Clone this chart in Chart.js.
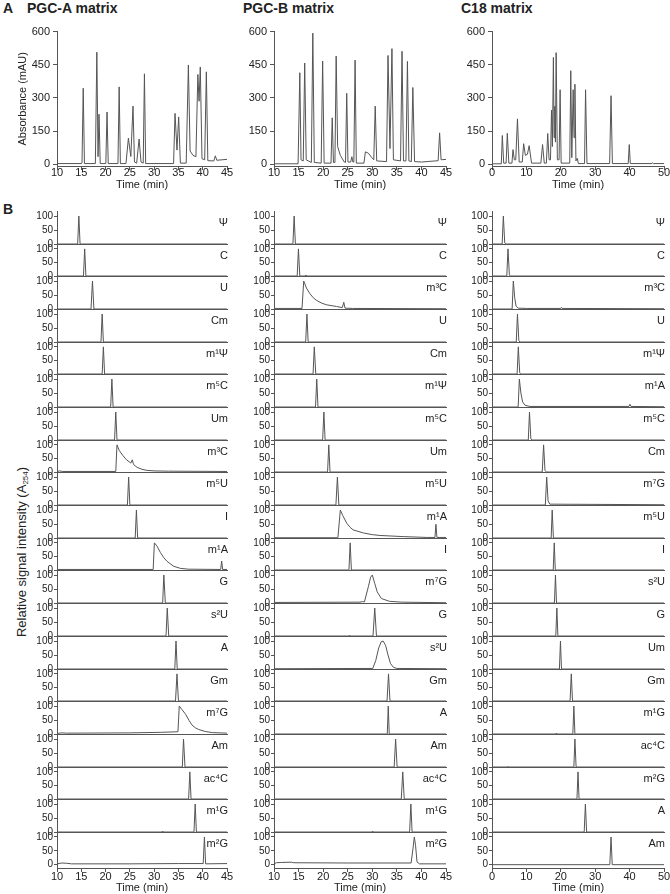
<!DOCTYPE html>
<html>
<head>
<meta charset="utf-8">
<script src="https://cdn.jsdelivr.net/npm/chart.js@4.4.0/dist/chart.umd.min.js"></script>
<style>
  body { margin: 0; background: #fff; width: 670px; height: 894px; position: relative; overflow: hidden;
         font-family: "Liberation Sans", Arial, sans-serif; color: #222; }
  canvas { position: absolute; }
  .lbl { position: absolute; line-height: 1; white-space: nowrap; }
  .panel { font-weight: bold; font-size: 14px; }
  .row { font-size: 11px; }
  .ytitle { position: absolute; font-size: 13px; line-height: 1; white-space: nowrap;
            transform: translate(-50%, -50%) rotate(-90deg); }
  .ytitle sub { font-size: 8px; vertical-align: -2px; }
</style>
</head>
<body>
<div class="lbl panel" style="left:3px;top:1px">A</div>
<div class="lbl panel" style="left:27px;top:1px">PGC-A matrix</div>
<div class="lbl panel" style="left:243px;top:1px">PGC-B matrix</div>
<div class="lbl panel" style="left:461px;top:1px">C18 matrix</div>
<div class="lbl panel" style="left:3px;top:202px">B</div>
<div class="ytitle" style="left:22px;top:552px">Relative signal intensity (A<sub>254</sub>)</div>

<script>
// ---- tick values ----
const absTicks = [0, 150, 300, 450, 600];
const relTicks = [0, 50, 100];
const pgcTimeTicks = [10, 15, 20, 25, 30, 35, 40, 45];
const c18TimeTicks = [0, 10, 20, 30, 40, 50];

// ---- panel A: full mixture chromatograms [time (min), absorbance (mAU)] ----
const pgcaTrace = [[10,3],[15.0,3],[15.15,5],[15.4,344],[15.65,3],[17.9,3],[18.2,507],[18.45,34],[18.65,226],[18.9,3],
  [20.05,3],[20.3,236],[20.55,3],[22.55,3],[22.8,350],[23.05,3],[24.2,3],[24.7,118],[25.2,35],[25.65,263],[25.95,10],
  [26.4,5],[26.9,114],[27.3,10],[27.75,5],[28.0,409],[28.25,3],[34.0,3],[34.3,230],[34.7,64],[35.05,214],[35.4,5],
  [36.6,5],[37.05,449],[37.4,60],[38.0,40],[38.6,34],[39.0,406],[39.25,285],[39.5,440],[39.85,25],[40.4,20],
  [40.75,418],[41.05,16],[42.3,15],[42.6,38],[42.9,18],[45,22]];
const pgcbTrace = [[10,2],[14.9,2],[15.25,414],[15.5,20],[15.95,15],[16.25,458],[16.55,20],[17.6,8],[17.9,593],[18.2,8],
  [19.6,5],[19.9,467],[20.2,5],[21.6,5],[21.85,210],[22.1,8],[22.4,8],[22.65,489],[22.95,80],[23.5,40],[24.3,10],
  [24.55,8],[24.8,321],[25.05,10],[25.6,10],[25.85,34],[26.05,10],[26.25,10],[26.5,471],[26.75,5],[28.3,5],[28.6,56],
  [29.2,50],[29.9,30],[30.3,20],[30.6,263],[30.9,15],[32.9,12],[33.2,492],[33.6,71],[34.0,523],[34.3,20],[35.75,15],
  [36.05,511],[36.35,15],[36.85,15],[37.15,465],[37.45,15],[37.95,12],[38.25,347],[38.6,12],[40,10],[43.4,16],
  [43.7,142],[44.0,20],[45,22]];
const c18Trace = [[0,2],[2.7,2],[3.0,130],[3.4,5],[4.1,5],[4.45,140],[4.9,5],[5.8,5],[6.1,66],[6.5,20],[6.9,20],[7.4,205],
  [7.9,10],[8.8,10],[9.2,93],[9.7,40],[10.3,45],[10.8,84],[11.5,5],[14.2,5],[14.7,89],[15.2,5],[15.8,5],[16.2,139],
  [16.6,20],[17.0,20],[17.3,245],[17.55,80],[17.85,483],[18.05,120],[18.25,262],[18.45,100],[18.65,505],[19.0,20],
  [19.5,20],[19.8,337],[20.1,5],[22.6,5],[22.9,423],[23.2,30],[23.6,337],[23.85,120],[24.1,362],[24.4,15],[24.8,27],
  [25.1,3],[26.9,3],[27.2,337],[27.6,3],[34.2,3],[34.6,310],[35.0,3],[39.6,3],[39.9,89],[40.2,3],[46.5,3],[46.7,6],
  [46.9,3],[50,3]];

// ---- panel B: single standards [time (min), relative intensity] ----
const pgcaNames = ['Ψ','C','U','Cm','m¹Ψ','m⁵C','Um','m³C','m⁵U','I','m¹A','G','s²U','A','Gm','m⁷G','Am','ac⁴C','m¹G','m²G'];
const pgcaRows = [
  [[10,0],[14.25,0],[14.5,100],[14.75,0],[45,0]],
  [[10,0],[15.45,0],[15.7,100],[15.95,0],[45,0]],
  [[10,0],[17.0,0],[17.3,100],[17.6,0],[45,0]],
  [[10,0],[19.05,0],[19.3,100],[19.55,0],[45,0]],
  [[10,0],[19.3,0],[19.55,100],[19.8,0],[45,0]],
  [[10,0],[21.05,0],[21.3,100],[21.55,0],[45,0]],
  [[10,0],[21.85,0],[22.1,100],[22.35,0],[45,0]],
  [[10,1],[10.5,4],[11.2,2],[22.1,2],[22.35,100],[22.8,80],[23.5,62],[24.3,45],[25.2,33],[25.5,45],[25.75,28],[26.5,17],[27.5,10],[28.5,6],[30,4],[33,3],[45,2]],
  [[10,0],[24.5,0],[24.75,100],[25.0,0],[45,0]],
  [[10,0],[26.1,0],[26.35,100],[26.6,0],[45,0]],
  [[10,2],[29.8,2],[30.05,100],[30.6,88],[31.3,64],[32.0,45],[32.65,32],[34.0,14],[35.4,6],[37,3],[43.7,2],[43.9,33],[44.1,2],[45,2]],
  [[10,0],[31.75,0],[32.0,100],[32.3,0],[45,0]],
  [[10,0],[32.45,0],[32.7,100],[33.0,0],[45,0]],
  [[10,0],[34.25,0],[34.5,100],[34.75,0],[45,0]],
  [[10,0],[34.4,0],[34.7,100],[35.0,0],[45,0]],
  [[10,2],[11,4],[12,3],[25,4],[31.5,6],[34.9,8],[35.17,100],[35.7,88],[36.5,70],[37.2,48],[37.8,32],[38.5,22],[39.2,16],[40.5,9],[42,5],[45,3]],
  [[10,0],[35.8,0],[36.05,100],[36.35,0],[45,0]],
  [[10,0],[37.1,0],[37.35,100],[37.6,0],[45,0]],
  [[10,0],[31.6,0],[31.7,2],[31.8,0],[38.2,0],[38.45,100],[38.7,0],[45,0]],
  [[10,3],[11,6],[12,5],[13,3],[25,3],[35,4],[40.1,4],[40.35,100],[40.6,3],[45,4]]
];

const pgcbNames = ['Ψ','C','m³C','U','Cm','m¹Ψ','m⁵C','Um','m⁵U','m¹A','I','m⁷G','G','s²U','Gm','A','Am','ac⁴C','m¹G','m²G'];
const pgcbRows = [
  [[10,0],[13.85,0],[14.1,100],[14.35,0],[45,0]],
  [[10,0],[14.72,0],[14.97,100],[15.25,0],[16.3,0],[16.5,3],[16.7,0],[45,0]],
  [[10,2],[15.7,2],[16.05,100],[16.6,75],[17.3,55],[18.0,40],[18.65,31],[19.7,21],[20.7,15],[22.7,9],[23.9,5],[24.2,24],[24.45,3],[26,2],[45,1]],
  [[10,0],[16.45,0],[16.7,100],[16.95,0],[45,0]],
  [[10,0],[17.95,0],[18.2,100],[18.5,0],[45,0]],
  [[10,0],[18.45,0],[18.7,100],[18.95,0],[45,0]],
  [[10,0],[19.9,0],[20.15,100],[20.4,0],[45,0]],
  [[10,0],[20.9,0],[21.15,100],[21.4,0],[45,0]],
  [[10,0],[22.6,0],[22.9,100],[23.2,0],[45,0]],
  [[10,1],[23.0,1],[23.5,100],[24.0,80],[24.8,53],[25.5,38],[26.1,29],[28.2,18],[30,12],[31.6,9],[36.3,5],[41.1,2],[42.75,2],[42.95,49],[43.15,2],[45,2]],
  [[10,0],[25.25,0],[25.5,100],[25.75,0],[45,0]],
  [[10,2],[27.5,3],[28.0,5],[28.4,4],[29.2,58],[29.65,92],[30.0,100],[30.5,70],[31.0,40],[31.85,16],[33.5,6],[36,3],[45,1]],
  [[10,0],[25.2,0],[25.3,2],[25.4,0],[30.15,0],[30.5,100],[30.85,0],[45,0]],
  [[10,1],[30.1,2],[30.7,30],[31.3,75],[31.8,97],[32.2,100],[32.7,85],[33.2,50],[33.7,20],[34.3,6],[35,2],[45,1]],
  [[10,0],[33.0,0],[33.3,100],[33.6,0],[45,0]],
  [[10,0],[33.05,0],[33.25,100],[33.45,0],[45,0]],
  [[10,0],[34.45,0],[34.75,100],[35.05,0],[45,0]],
  [[10,0],[35.9,0],[36.2,100],[36.5,0],[45,0]],
  [[10,0],[29.9,0],[30.0,2],[30.1,0],[37.6,0],[37.85,100],[38.1,0],[45,0]],
  [[10,3],[10.5,7],[11.5,8],[13.5,9],[14,7],[25,6],[37.9,6],[38.3,60],[38.55,100],[38.8,70],[39.1,10],[39.6,3],[45,3]]
];

const c18Names = ['Ψ','C','m³C','U','m¹Ψ','m¹A','m⁵C','Cm','m⁷G','m⁵U','I','s²U','G','Um','Gm','m¹G','ac⁴C','m²G','A','Am'];
const c18Rows = [
  [[0,0],[2.95,0],[3.3,100],[3.7,4],[4.0,0],[50,0]],
  [[0,0],[4.3,0],[4.65,100],[5.05,4],[5.3,0],[50,0]],
  [[0,0],[5.85,0],[6.2,100],[6.6,40],[7.0,10],[7.6,3],[10,2],[20.0,2],[20.2,6],[20.4,2],[50,1]],
  [[0,0],[7.05,0],[7.4,100],[7.8,5],[8.1,0],[50,0]],
  [[0,0],[7.3,0],[7.65,100],[8.05,5],[8.3,0],[50,0]],
  [[0,0],[7.6,0],[7.95,100],[8.4,50],[8.9,18],[9.6,6],[11,2],[39.8,2],[40.1,10],[40.4,2],[50,1]],
  [[0,0],[10.55,0],[10.9,100],[11.3,4],[11.6,0],[50,0]],
  [[0,0],[14.6,0],[15.0,100],[15.4,6],[15.8,0],[50,0]],
  [[0,0],[15.5,0],[15.9,100],[16.3,15],[16.8,3],[50,1]],
  [[0,0],[17.2,0],[17.5,100],[17.85,0],[50,0]],
  [[0,0],[17.8,0],[18.1,100],[18.4,0],[50,0]],
  [[0,0],[18.15,0],[18.45,100],[18.75,0],[50,0]],
  [[0,0],[18.55,0],[18.85,100],[19.15,0],[50,0]],
  [[0,0],[19.6,0],[19.9,100],[20.2,0],[50,0]],
  [[0,0],[22.7,0],[23.05,100],[23.4,0],[50,0]],
  [[0,0],[18.6,0],[18.7,2],[18.8,0],[23.5,0],[23.8,100],[24.1,0],[50,0]],
  [[0,0],[4.5,0],[4.6,2],[4.7,0],[23.8,0],[24.1,100],[24.45,0],[50,0]],
  [[0,0],[24.7,0],[25.0,100],[25.3,0],[50,0]],
  [[0,0],[26.8,0],[27.15,100],[27.5,0],[50,0]],
  [[0,0],[34.25,0],[34.6,100],[34.95,0],[50,0]]
];

Chart.defaults.font.family = '"Liberation Sans", Arial, sans-serif';
Chart.defaults.color = '#222';
const LINE = '#555';

function place(x, y, w, h) {
  const c = document.createElement('canvas');
  c.width = w;
  c.height = h;
  c.style.left = x + 'px';
  c.style.top = y + 'px';
  document.body.appendChild(c);
  return c;
}

function traceSet(points) {
  return [{
    data: points.map(p => ({x: p[0], y: p[1]})),
    borderColor: LINE,
    borderWidth: 1,
    pointRadius: 0,
    tension: 0
  }];
}

function fixedTicks(values) {
  return function(scale) {
    scale.ticks = values.map(v => ({value: v}));
  };
}

// panel A chart
function overview(spec) {
  const yw = spec.plotLeft - spec.canvasLeft;
  const w = spec.plotRight + spec.padR - spec.canvasLeft;
  const canvas = place(spec.canvasLeft, 22, w, 170);
  new Chart(canvas, {
    type: 'line',
    data: {datasets: traceSet(spec.trace)},
    options: {
      animation: false,
      responsive: false,
      events: [],
      layout: {padding: {top: 7, right: spec.padR, bottom: 0, left: 0}},
      plugins: {legend: {display: false}, tooltip: {enabled: false}},
      scales: {
        x: {
          type: 'linear', min: spec.xmin, max: spec.xmax,
          afterBuildTicks: fixedTicks(spec.xticks),
          ticks: {font: {size: 11}, padding: -4, maxRotation: 0, autoSkip: false},
          grid: {drawOnChartArea: false, tickLength: 4, color: LINE},
          border: {color: LINE},
          title: {display: true, text: 'Time (min)', font: {size: 11}, padding: {top: 0, bottom: 0}},
          afterFit: s => { s.height = 26; }
        },
        y: {
          min: -8, max: 600,
          afterBuildTicks: fixedTicks(absTicks),
          ticks: {font: {size: 11}, padding: 3},
          grid: {drawOnChartArea: false, tickLength: 4, color: LINE},
          border: {color: LINE},
          title: {display: !!spec.ytitle, text: spec.ytitle || '', font: {size: 11}, padding: {top: 4, bottom: 0}},
          afterFit: s => { s.width = yw; }
        }
      }
    }
  });
}

overview({trace: pgcaTrace, canvasLeft: 12, plotLeft: 57, plotRight: 227, padR: 8, xmin: 10, xmax: 45, xticks: pgcTimeTicks, ytitle: 'Absorbance (mAU)'});
overview({trace: pgcbTrace, canvasLeft: 242, plotLeft: 274, plotRight: 446, padR: 8, xmin: 10, xmax: 45, xticks: pgcTimeTicks});
overview({trace: c18Trace, canvasLeft: 460, plotLeft: 492, plotRight: 664, padR: 6, xmin: 0, xmax: 50, xticks: c18TimeTicks});

// panel B strips
const ROW_H = 32.68;
const ROW_TOP = 211;
const AXIS_W = 30;

function strip(spec, i) {
  const last = i === spec.rows.length - 1;
  const top = Math.round(ROW_TOP + ROW_H * i);
  const bot = last ? 868 : Math.round(ROW_TOP + ROW_H * (i + 1));
  const h = (bot - top) + 7 + (last ? 26 : 7);
  const w = spec.plotRight + spec.padR - (spec.plotLeft - AXIS_W);
  const canvas = place(spec.plotLeft - AXIS_W, top - 7, w, h);

  const x = {
    type: 'linear', min: spec.xmin, max: spec.xmax,
    border: {color: LINE}
  };
  if (last) {
    Object.assign(x, {
      afterBuildTicks: fixedTicks(spec.xticks),
      ticks: {font: {size: 11}, padding: -2, maxRotation: 0, autoSkip: false},
      grid: {drawOnChartArea: false, tickLength: 4, color: LINE},
      title: {display: true, text: 'Time (min)', font: {size: 11}, padding: {top: 0, bottom: -1}},
      afterFit: s => { s.height = 26; }
    });
  } else {
    Object.assign(x, {
      ticks: {display: false},
      grid: {display: false},
      afterFit: s => { s.height = 0; }
    });
  }

  new Chart(canvas, {
    type: 'line',
    data: {datasets: traceSet(spec.rows[i])},
    options: {
      animation: false,
      responsive: false,
      events: [],
      layout: {padding: {top: 7, right: spec.padR, bottom: last ? 0 : 7, left: 0}},
      plugins: {legend: {display: false}, tooltip: {enabled: false}},
      scales: {
        x: x,
        y: {
          min: last ? -12 : 0, max: 118,
          afterBuildTicks: fixedTicks(relTicks),
          ticks: {font: {size: 10}, padding: 1},
          grid: {drawOnChartArea: false, tickLength: 3, color: LINE},
          border: {color: LINE},
          afterFit: s => { s.width = AXIS_W; }
        }
      }
    }
  });

  const lab = document.createElement('div');
  lab.className = 'lbl row';
  lab.textContent = spec.names[i];
  lab.style.right = (670 - spec.plotRight - 1) + 'px';
  lab.style.top = (top + 5.5) + 'px';
  document.body.appendChild(lab);
}

const columns = [
  {names: pgcaNames, rows: pgcaRows, plotLeft: 57, plotRight: 227, padR: 8, xmin: 10, xmax: 45, xticks: pgcTimeTicks},
  {names: pgcbNames, rows: pgcbRows, plotLeft: 274, plotRight: 446, padR: 8, xmin: 10, xmax: 45, xticks: pgcTimeTicks},
  {names: c18Names, rows: c18Rows, plotLeft: 492, plotRight: 664, padR: 6, xmin: 0, xmax: 50, xticks: c18TimeTicks}
];

columns.forEach(col => {
  col.rows.forEach((_, i) => strip(col, i));
});
</script>
</body>
</html>
